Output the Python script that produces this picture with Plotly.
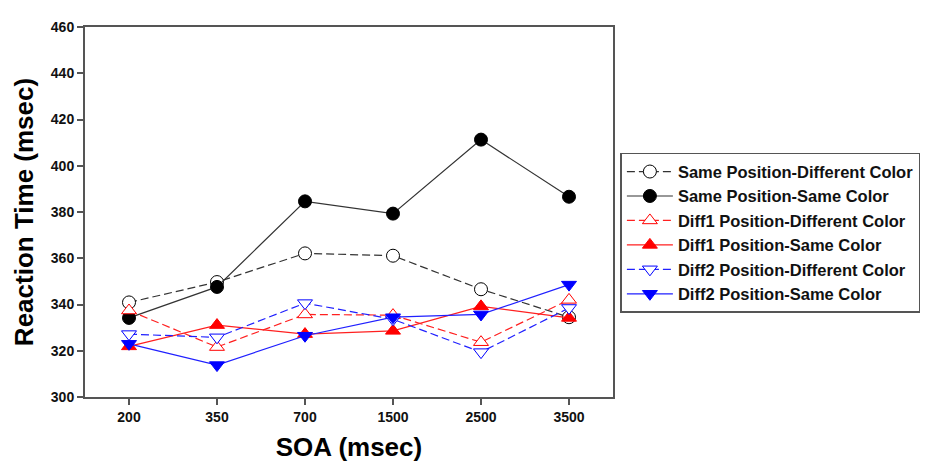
import plotly.graph_objects as go

soa_labels = ["200", "350", "700", "1500", "2500", "3500"]

same_pos_diff_color = [340.9, 349.7, 362.1, 361.1, 346.6, 334.5]
same_pos_same_color = [334.2, 347.6, 384.6, 379.3, 411.3, 386.6]
diff1_pos_diff_color = [337.4, 321.6, 335.7, 335.4, 323.7, 342.0]
diff1_pos_same_color = [321.9, 331.1, 327.2, 328.6, 339.2, 334.2]
diff2_pos_diff_color = [327.2, 325.8, 340.6, 333.6, 319.4, 338.5]
diff2_pos_same_color = [323.0, 313.8, 326.5, 334.5, 335.7, 348.6]

series = [
    ("Same Position-Different Color", same_pos_diff_color, "#333333", "dash", "circle", "white"),
    ("Same Position-Same Color", same_pos_same_color, "#333333", "solid", "circle", "black"),
    ("Diff1 Position-Different Color", diff1_pos_diff_color, "#ff2020", "dash", "triangle-up", "white"),
    ("Diff1 Position-Same Color", diff1_pos_same_color, "#ff2020", "solid", "triangle-up", "#ff0000"),
    ("Diff2 Position-Different Color", diff2_pos_diff_color, "#2020ff", "dash", "triangle-down", "white"),
    ("Diff2 Position-Same Color", diff2_pos_same_color, "#2020ff", "solid", "triangle-down", "#0000ff"),
]

fig = go.Figure()
for i, (name, vals, col, dash, sym, fill) in enumerate(series):
    mcol = "#000000" if col == "#333333" else ("#ff0000" if col == "#ff2020" else "#0000ff")
    fig.add_trace(go.Scatter(
        x=soa_labels, y=vals, name=name, mode="lines+markers",
        line=dict(color=col, width=1.2, dash="8px,4px" if dash == "dash" else "solid"),
        marker=dict(symbol=sym, size=13, color=fill, line=dict(color=mcol, width=1)),
    ))

axis_font = dict(family="Liberation Sans, Arial", size=14, color="#111111", weight="bold")
fig.update_layout(
    width=926, height=460,
    margin=dict(l=77, r=321, t=11, b=70),
    paper_bgcolor="white", plot_bgcolor="white",
    showlegend=True,
    legend=dict(
        x=1.014, y=0.66, xanchor="left", yanchor="top",
        font=dict(family="Liberation Sans, Arial", size=16.5, color="#111111", weight="bold"),
        bordercolor="#555555", borderwidth=1.5, bgcolor="white",
        itemwidth=46,
    ),
    xaxis=dict(
        type="category", range=[-0.5, 5.5],
        showline=True, linecolor="#555555", linewidth=2, mirror=True,
        ticks="outside", ticklen=6, tickcolor="#555555", tickwidth=1.5,
        showgrid=False, zeroline=False, tickfont=axis_font,
        title=dict(text="SOA (msec)", standoff=14,
                   font=dict(family="Liberation Sans, Arial", size=26, color="#000000", weight="bold")),
    ),
    yaxis=dict(
        range=[300, 460], dtick=20,
        showline=True, linecolor="#555555", linewidth=2, mirror=True,
        ticks="outside", ticklen=6, tickcolor="#555555", tickwidth=1.5,
        showgrid=False, zeroline=False, tickfont=axis_font,
        title=dict(text="Reaction Time (msec)", standoff=10,
                   font=dict(family="Liberation Sans, Arial", size=26, color="#000000", weight="bold")),
    ),
)

fig.write_html("out.html")
